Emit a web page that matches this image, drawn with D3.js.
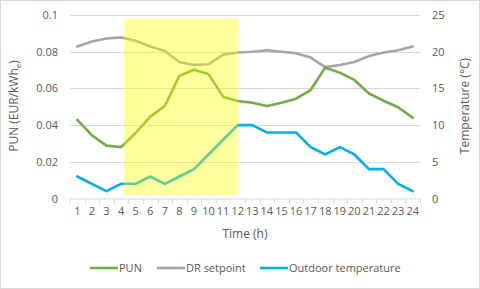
<!DOCTYPE html>
<html><head><meta charset="utf-8">
<script src="https://cdn.jsdelivr.net/npm/d3@7"></script>
<style>body{margin:0;background:#fff}svg{display:block}text{font-family:"Open Sans",sans-serif;fill:#595959}</style>
</head><body><svg id="c" width="480" height="289"></svg>
<script>
const hours = d3.range(1, 25);
const pun = [0.0428,0.0345,0.0288,0.0280,0.0357,0.0446,0.0504,0.0668,0.0702,0.0678,0.0555,0.0531,0.0522,0.0504,0.0522,0.0544,0.0591,0.0713,0.0686,0.0646,0.0572,0.0533,0.0497,0.0440];
const drSetpoint = [20.7,21.4,21.8,21.95,21.5,20.7,20.1,18.6,18.2,18.3,19.6,19.9,20.0,20.2,20.0,19.8,19.2,17.9,18.2,18.6,19.4,19.9,20.2,20.7];
const outdoor = [3,2,1,2,2,3,2,3,4,6,8,10,10,9,9,9,7,6,7,6,4,4,2,1];
const leftTicks = [0,0.02,0.04,0.06,0.08,0.1];
const rightTicks = [0,5,10,15,20,25];
const highlight = {fromHour: 4.2, toHour: 12.05, yLow: 0.002, yHigh: 0.098};

const svg = d3.select("#c");
svg.append("rect").attr("x",0.5).attr("y",0.5).attr("width",479).attr("height",288).attr("fill","#fff").attr("stroke","#d9d9d9");
const L=70,R=420,T=15,B=198.5;
const x = d3.scaleBand().domain(hours).range([L,R]);
const xc = h => x(h)+x.bandwidth()/2;
const xl = d3.scaleLinear().domain([1,24]).range([xc(1),xc(24)]);
const yL = d3.scaleLinear().domain([0,0.1]).range([B,T]);
const yR = d3.scaleLinear().domain([0,25]).range([B,T]);

// gridlines
svg.append("g").selectAll("line").data(leftTicks.slice(1)).join("line")
  .attr("x1",L).attr("x2",R).attr("y1",d=>Math.round(yL(d))+0.5).attr("y2",d=>Math.round(yL(d))+0.5)
  .attr("stroke","#d9d9d9").attr("stroke-width",1);
// x axis
const xa = svg.append("g").attr("transform",`translate(0,${B})`)
  .call(d3.axisBottom(x).tickSize(0).tickPadding(10));
xa.select(".domain").attr("stroke","#d9d9d9").attr("d",`M${L},0.5H${R}`);
xa.selectAll("text").attr("font-size",11).style("fill","#595959").attr("font-family","Open Sans").attr("dy","0.55em");
svg.append("g").selectAll("line").data(d3.range(25)).join("line")
  .attr("x1",i=>Math.round(L+i*x.step())+0.5).attr("x2",i=>Math.round(L+i*x.step())+0.5)
  .attr("y1",B).attr("y2",B+5).attr("stroke","#d9d9d9");
// y axes
const ya = svg.append("g").attr("transform",`translate(${L-8},0)`)
  .call(d3.axisLeft(yL).tickValues(leftTicks).tickFormat(d=>d===0?"0":d3.format("")(+d.toFixed(2))).tickSize(0).tickPadding(4));
ya.select(".domain").remove();
ya.selectAll("text").attr("font-size",11).style("fill","#595959").attr("font-family","Open Sans");
const yra = svg.append("g").attr("transform",`translate(${R+8},0)`)
  .call(d3.axisRight(yR).tickValues(rightTicks).tickSize(0).tickPadding(4));
yra.select(".domain").remove();
yra.selectAll("text").attr("font-size",11).style("fill","#595959").attr("font-family","Open Sans");

// lines
const lineL = d3.line().x((d,i)=>xc(hours[i])).y(d=>yL(d));
const lineR = d3.line().x((d,i)=>xc(hours[i])).y(d=>yR(d));
const series = [
  {data: drSetpoint, gen: lineR, color:"#a5a5a5"},
  {data: pun, gen: lineL, color:"#70ad47"},
  {data: outdoor, gen: lineR, color:"#00b0f0"}
];
svg.append("g").selectAll("path").data(series).join("path")
  .attr("d",s=>s.gen(s.data)).attr("fill","none").attr("stroke",s=>s.color)
  .attr("stroke-width",2.6).attr("stroke-linejoin","round").attr("stroke-linecap","round");

// highlight
svg.append("rect").attr("x",xl(highlight.fromHour)).attr("width",xl(highlight.toHour)-xl(highlight.fromHour))
  .attr("y",yL(highlight.yHigh)).attr("height",yL(highlight.yLow)-yL(highlight.yHigh))
  .attr("fill","#ffff00").attr("opacity",0.38);

// titles
svg.append("text").attr("x",245).attr("y",238).attr("text-anchor","middle").attr("font-size",12).text("Time (h)");
const lt = svg.append("text").attr("transform","translate(18,106) rotate(-90)").attr("text-anchor","middle").attr("font-size",12);
lt.append("tspan").text("PUN (EUR/kWh");
lt.append("tspan").attr("font-size",8).attr("dy",3).text("e");
lt.append("tspan").attr("dy",-3).text(")");
svg.append("text").attr("transform","translate(469,106) rotate(-90)").attr("text-anchor","middle").attr("font-size",12).text("Temperature (°C)");

// legend
const legend = [
  {name:"PUN", color:"#70ad47", x:90},
  {name:"DR setpoint", color:"#a5a5a5", x:157},
  {name:"Outdoor temperature", color:"#00b0f0", x:260}
];
const lg = svg.append("g").selectAll("g").data(legend).join("g").attr("transform",d=>`translate(${d.x},268)`);
lg.append("line").attr("x1",0).attr("x2",28).attr("stroke",d=>d.color).attr("stroke-width",2.6);
lg.append("text").attr("x",29).attr("dy","0.35em").attr("font-size",11).text(d=>d.name);
</script></body></html>
